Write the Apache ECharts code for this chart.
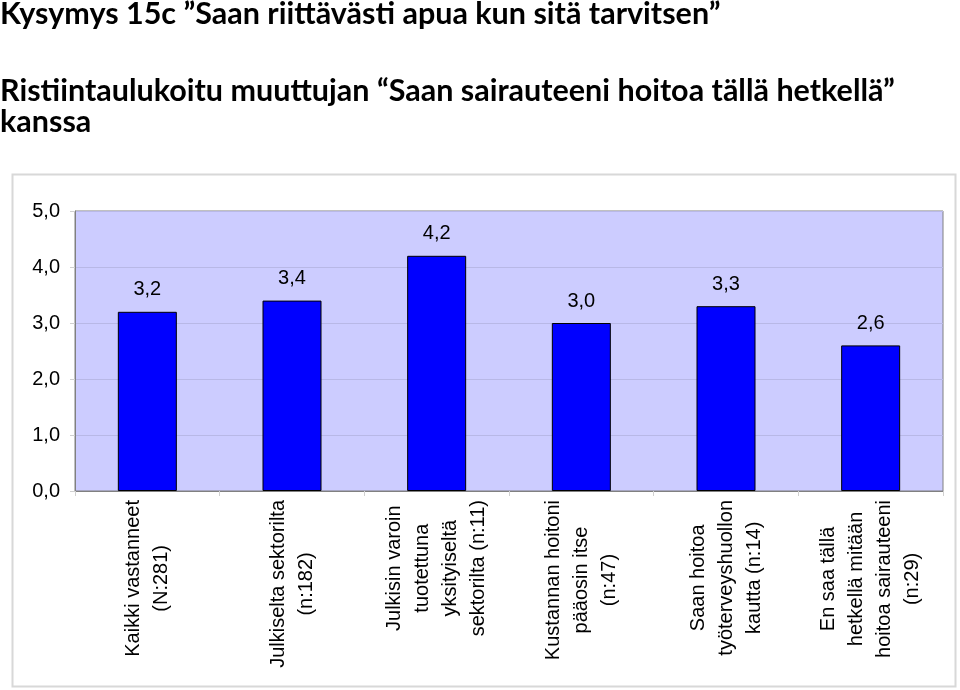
<!DOCTYPE html>
<html>
<head>
<meta charset="utf-8">
<script src="https://cdn.jsdelivr.net/npm/echarts@6/dist/echarts.min.js"></script>
<style>
html,body{margin:0;padding:0;background:#fff;}
#chart{width:960px;height:690px;}
</style>
</head>
<body>
<div id="chart"></div>
<script>
var titleLine1 = 'Kysymys 15c \u201DSaan riittävästi apua kun sitä tarvitsen\u201D';
var titleLine2 = 'Ristiintaulukoitu muuttujan \u201CSaan sairauteeni hoitoa tällä hetkellä\u201D\nkanssa';
var categories = [
  'Kaikki vastanneet\n(N:281)',
  'Julkiselta sektorilta\n(n:182)',
  'Julkisin varoin\ntuotettuna\nyksityiseltä\nsektorilta (n:11)',
  'Kustannan hoitoni\npääosin itse\n(n:47)',
  'Saan hoitoa\ntyöterveyshuollon\nkautta (n:14)',
  'En saa tällä\nhetkellä mitään\nhoitoa sairauteeni\n(n:29)'
];
var values = [3.2, 3.4, 4.2, 3.0, 3.3, 2.6];
var yMin = 0, yMax = 5, yStep = 1;

function fmt(v) { return Number(v).toFixed(1).replace('.', ','); }

var chart = echarts.init(document.getElementById('chart'), null, {renderer: 'canvas'});
var titleFont = 'Lato, "Open Sans", sans-serif';
var bodyFont = '"Liberation Sans", Arial, sans-serif';
chart.setOption({
  animation: false,
  backgroundColor: '#ffffff',
  graphic: [
    {type: 'rect', shape: {x: 12.5, y: 174.5, width: 943, height: 512}, style: {fill: 'none', stroke: '#d8d8d8', lineWidth: 2}, z: -10},
    {type: 'text', left: 0, top: -1, style: {text: titleLine1, fontFamily: titleFont, fontWeight: 'bold', fontSize: 30.5, lineHeight: 31, fill: '#000'}},
    {type: 'text', left: 0, top: 76, style: {text: titleLine2, fontFamily: titleFont, fontWeight: 'bold', fontSize: 30.5, lineHeight: 31, fill: '#000'}}
  ],
  grid: {left: 75, top: 211, right: 17, bottom: 199, show: true, backgroundColor: '#CCCCFF', borderColor: '#808080', borderWidth: 1, containLabel: false},
  xAxis: {
    type: 'category',
    data: categories,
    axisLine: {show: true, lineStyle: {color: '#808080', width: 1}},
    axisTick: {show: true, alignWithLabel: false, length: 5, lineStyle: {color: '#d0d0d0'}},
    axisLabel: {
      rotate: 90,
      interval: 0,
      margin: 9,
      color: '#000',
      fontFamily: bodyFont,
      fontSize: 20,
      lineHeight: 28,
      formatter: function (v) { return v.split('\n').map(function (s) { return '{c|' + s + '}'; }).join('\n'); },
      rich: {c: {align: 'center', fontSize: 20, lineHeight: 28, color: '#000', fontFamily: bodyFont}}
    }
  },
  yAxis: {
    type: 'value',
    min: yMin, max: yMax, interval: yStep,
    axisLine: {show: true, lineStyle: {color: '#808080', width: 1}},
    axisTick: {show: true, length: 5, lineStyle: {color: '#d0d0d0'}},
    splitLine: {show: true, lineStyle: {color: '#b8b8e6', width: 1}},
    axisLabel: {margin: 15, color: '#000', fontFamily: bodyFont, fontSize: 20, formatter: fmt}
  },
  series: [{
    type: 'bar',
    data: values,
    barWidth: 59,
    itemStyle: {color: '#0000FF', borderColor: '#000000', borderWidth: 1},
    label: {show: true, position: 'top', distance: 12, color: '#000', fontFamily: bodyFont, fontSize: 20, formatter: function (p) { return fmt(p.value); }}
  }]
});
</script>
</body>
</html>
